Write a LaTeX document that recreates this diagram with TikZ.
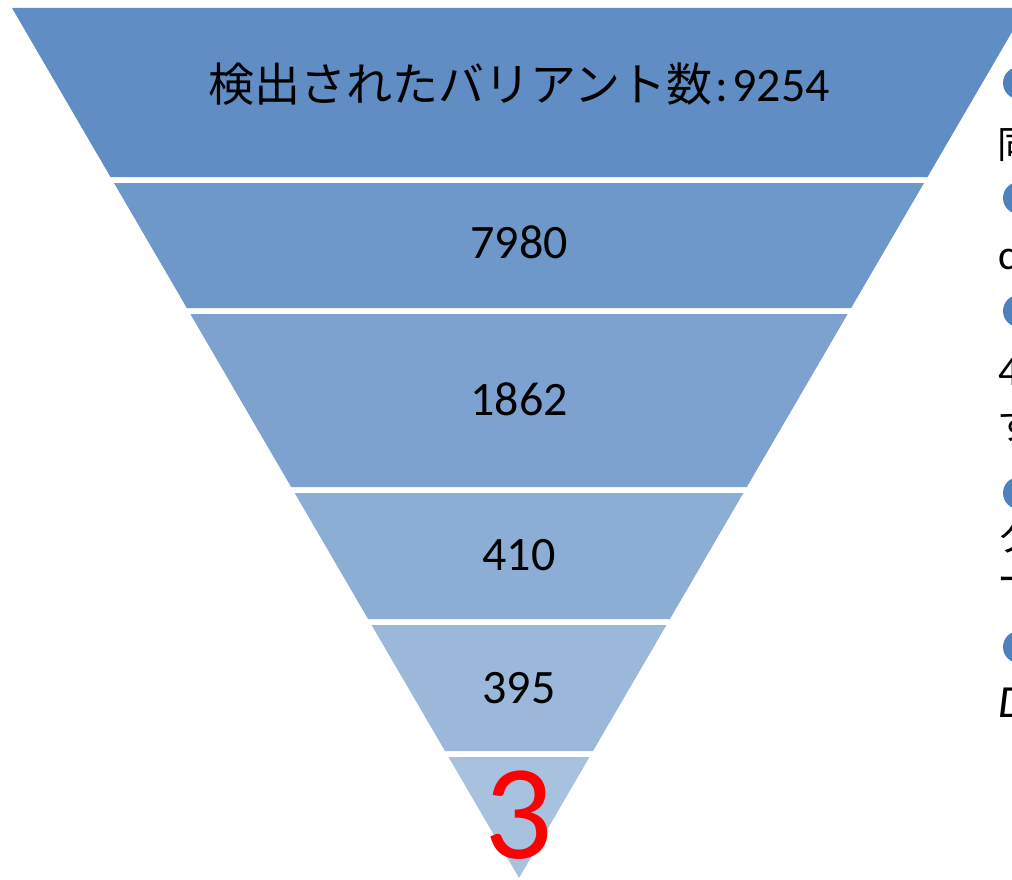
\documentclass[tikz,border=0pt]{standalone}
\usepackage{fontspec}
\setmainfont{Carlito}
\newfontfamily\jp{Noto Sans CJK JP}
\definecolor{band1}{RGB}{96,141,196}
\definecolor{band2}{RGB}{111,152,202}
\definecolor{band3}{RGB}{125,162,207}
\definecolor{band4}{RGB}{140,173,212}
\definecolor{band5}{RGB}{155,183,217}
\definecolor{band6}{RGB}{168,193,222}
\definecolor{bullet}{RGB}{79,129,189}
\begin{document}
\begin{tikzpicture}
[x=1pt,y=-1pt,every node/.style={inner sep=0pt,anchor=base,font=\fontsize{48}{58}\selectfont}]
\useasboundingbox (0,0) rectangle (1012,880);
\clip (0,0) rectangle (1012,880);
\foreach \ya/\yb/\col in {8/177/band1,183/308/band2,314/487/band3,493/619/band4,625/751/band5,757/878/band6}
{
\pgfmathsetmacro\xa{12+0.58276*(\ya-8)}
\pgfmathsetmacro\xb{12+0.58276*(\yb-8)}
\fill[\col] (\xa,\ya) -- (1038-\xa,\ya) -- (1038-\xb,\yb) -- (\xb,\yb) -- cycle;
}
\node (n1) at (519,102) {{\fontsize{46}{58}\selectfont\jp 検出されたバリアント数}\kern3pt:\kern4pt9254};
\node (n2) at (519,258) {7980};
\node (n3) at (519,415) {1862};
\node (n4) at (519,570) {410};
\node (n5) at (519,703) {395};
\node[text=red,font=\fontsize{135}{150}\selectfont] (n6) at (519,858) {3};
% list on the right, cut off at the edge
\foreach \y in {83,198,311,493,647}
\fill[bullet] (1019,\y) circle (16);
\node[anchor=base west,font=\fontsize{38}{40}\selectfont\jp] (f1) at (997,159) {同};
\node[anchor=base west,font=\fontsize{42}{40}\selectfont] (f2) at (998,269) {c};
\node[anchor=base west,font=\fontsize{42}{40}\selectfont] (f3) at (998,385) {4};
\node[anchor=base west,font=\fontsize{38}{40}\selectfont\jp] (f4) at (997,439) {す};
\node[anchor=base west,font=\fontsize{38}{40}\selectfont\jp] (f5) at (997,551) {ク};
\node[anchor=base west,font=\fontsize{38}{40}\selectfont\jp] (f6) at (997,593) {ー};
\node[anchor=base west,font=\fontsize{46}{50}\selectfont\itshape] (f7) at (998,717) {D};
\end{tikzpicture}
\end{document}
